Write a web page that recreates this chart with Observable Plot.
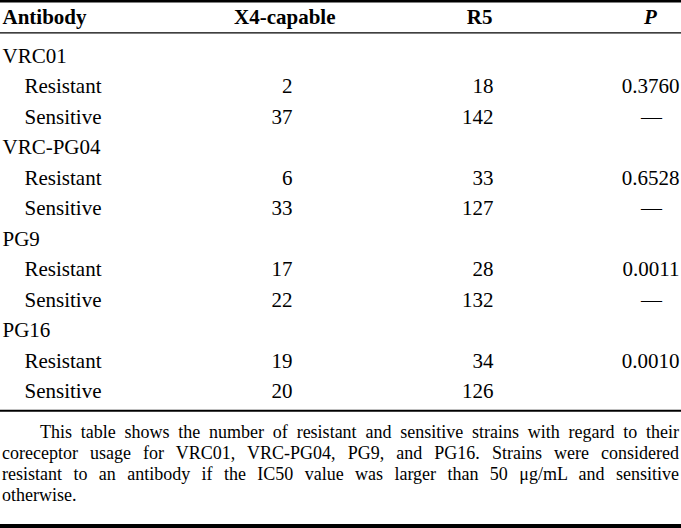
<!DOCTYPE html>
<html>
<head>
<meta charset="utf-8">
<script src="https://cdn.jsdelivr.net/npm/d3@7"></script>
<script src="https://cdn.jsdelivr.net/npm/@observablehq/plot@0.6"></script>
<style>
  html, body { margin: 0; padding: 0; background: #fff; }
  #wrap { width: 681px; height: 528px; overflow: hidden; font-family: 'Liberation Serif', 'Times New Roman', serif; color: #000; }
  #wrap svg { display: block; }
  #wrap svg text { font-family: 'Liberation Serif', 'Times New Roman', serif !important; }
  .note { box-sizing: border-box; width: 681px; height: 116px; padding: 10px 2px 0 2px; border-bottom: 4px solid #000; font-family: 'Liberation Serif', 'Times New Roman', serif; font-size: 18px; line-height: 21px; }
  .note div { text-align: justify; text-align-last: justify; white-space: nowrap; }
  .note div.first { text-indent: 38px; }
  .note div.last { text-align: left; text-align-last: left; }
</style>
</head>
<body>
<div id="wrap"></div>
<script>
// ---- data ----
const headers = ["Antibody", "X4-capable", "R5", "P"];
const antibodies = ["VRC01", "VRC-PG04", "PG9", "PG16"];
const statuses = ["Resistant", "Sensitive"];
const x4Capable = [2, 37, 6, 33, 17, 22, 19, 20];
const r5 = [18, 142, 33, 127, 28, 132, 34, 126];
const pValues = ["0.3760", "—", "0.6528", "—", "0.0011", "—", "0.0010", ""];
const noteLines = [
  "This table shows the number of resistant and sensitive strains with regard to their",
  "coreceptor usage for VRC01, VRC-PG04, PG9, and PG16. Strains were considered",
  "resistant to an antibody if the IC50 value was larger than 50 μg/mL and sensitive",
  "otherwise."
];

// ---- table rows built from the arrays ----
const groupRows = antibodies.map((a, i) => ({row: i * 3, label: a}));
const subRows = [];
antibodies.forEach((a, i) => statuses.forEach((s, j) => {
  const k = i * 2 + j;
  subRows.push({row: i * 3 + 1 + j, label: s, x4: x4Capable[k], r5: r5[k], p: pValues[k]});
}));

// column anchors (layout, in x-scale units)
const col = {label: 2, sub: 24, x4Head: 335, x4: 292, r5Head: 492, r5: 493, pHead: 650, p: 679, dash: 651};
// row anchors in y-scale units (row index)
const headerRow = -1.26, topRule = -1.8, headRule = -0.755, bottomRule = 11.63;

const serif = "'Liberation Serif', 'Times New Roman', serif";
const fs = 21;
const common = {fontSize: fs, fill: "#000", fontFamily: serif};
const plot = Plot.plot({
  width: 681, height: 412,
  margin: 0,
  x: {domain: [0, 681], range: [0, 681], axis: null},
  y: {domain: [0, 11], range: [55.5, 391], axis: null},
  style: {fontFamily: serif, background: "#fff", color: "#000"},
  marks: [
    Plot.ruleY([topRule], {stroke: "#000", strokeWidth: 3}),
    Plot.ruleY([headRule], {stroke: "#000", strokeWidth: 1.3}),
    Plot.ruleY([bottomRule], {stroke: "#000", strokeWidth: 2}),
    // header
    Plot.text([headers[0]], {...common, x: col.label, y: headerRow, text: d => d, textAnchor: "start", fontWeight: "bold"}),
    Plot.text([headers[1]], {...common, x: col.x4Head, y: headerRow, text: d => d, textAnchor: "end", fontWeight: "bold"}),
    Plot.text([headers[2]], {...common, x: col.r5Head, y: headerRow, text: d => d, textAnchor: "end", fontWeight: "bold"}),
    Plot.text([headers[3]], {...common, x: col.pHead, y: headerRow, text: d => d, textAnchor: "middle", fontWeight: "bold", fontStyle: "italic"}),
    // body
    Plot.text(groupRows, {...common, x: col.label, y: "row", text: "label", textAnchor: "start"}),
    Plot.text(subRows, {...common, x: col.sub, y: "row", text: "label", textAnchor: "start"}),
    Plot.text(subRows, {...common, x: col.x4, y: "row", text: d => String(d.x4), textAnchor: "end"}),
    Plot.text(subRows, {...common, x: col.r5, y: "row", text: d => String(d.r5), textAnchor: "end"}),
    Plot.text(subRows.filter(d => d.p !== "—"), {...common, x: col.p, y: "row", text: "p", textAnchor: "end"}),
    Plot.text(subRows.filter(d => d.p === "—"), {...common, x: col.dash, y: "row", text: "p", textAnchor: "middle"})
  ]
});

const wrap = document.getElementById("wrap");
wrap.appendChild(plot);
const note = document.createElement("div");
note.className = "note";
noteLines.forEach((t, i) => {
  const d = document.createElement("div");
  d.textContent = t;
  if (i === 0) d.className = "first";
  if (i === noteLines.length - 1) d.className = "last";
  note.appendChild(d);
});
wrap.appendChild(note);
</script>
</body>
</html>
